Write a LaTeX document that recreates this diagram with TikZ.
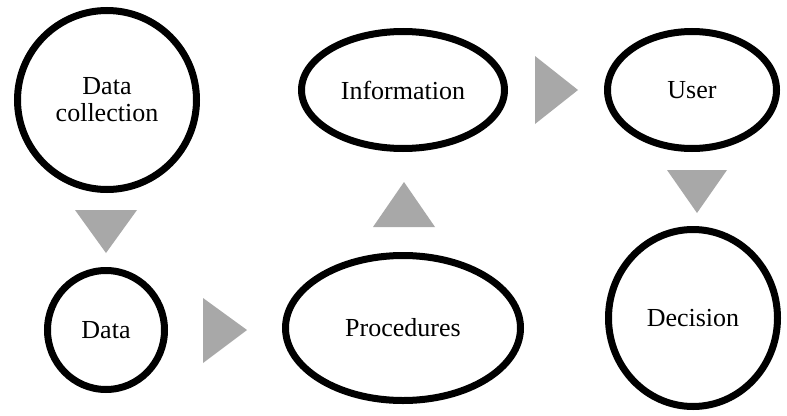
\documentclass[tikz,border=0pt]{standalone}
\usepackage{fontspec}
\setmainfont{Liberation Serif}
\usetikzlibrary{shapes.geometric}
\definecolor{arrowgray}{RGB}{168,168,168}
\begin{document}
\begin{tikzpicture}[x=1pt,y=-1pt,
  bubble/.style={draw=black, line width=7pt, ellipse, inner sep=0pt, fill=white,
    font=\fontsize{26}{27}\selectfont, align=center},
  flowtri/.style={fill=arrowgray, draw=none}]
\useasboundingbox[fill=white] (0,0) rectangle (787,415);
\node[bubble, minimum width=179pt, minimum height=179pt] (dc) at (107,100) {Data\\collection};
\node[bubble, minimum width=117pt, minimum height=119pt] (data) at (106,330) {Data};
\node[bubble, minimum width=235pt, minimum height=145pt] (proc) at (403,328) {Procedures};
\node[bubble, minimum width=203pt, minimum height=117pt] (info) at (403,90) {Information};
\node[bubble, minimum width=169pt, minimum height=117pt] (user) at (692,90) {User};
\node[bubble, minimum width=169pt, minimum height=177pt] (dec) at (693,318) {Decision};
% flow triangles
\fill[flowtri] (75,210) -- (137,210) -- (106,253) -- cycle;
\fill[flowtri] (203,298) -- (247,330) -- (203,363) -- cycle;
\fill[flowtri] (373,227) -- (435,227) -- (404,182) -- cycle;
\fill[flowtri] (535,56) -- (578,90) -- (535,124) -- cycle;
\fill[flowtri] (667,170) -- (727,170) -- (697,213) -- cycle;
\end{tikzpicture}
\end{document}
